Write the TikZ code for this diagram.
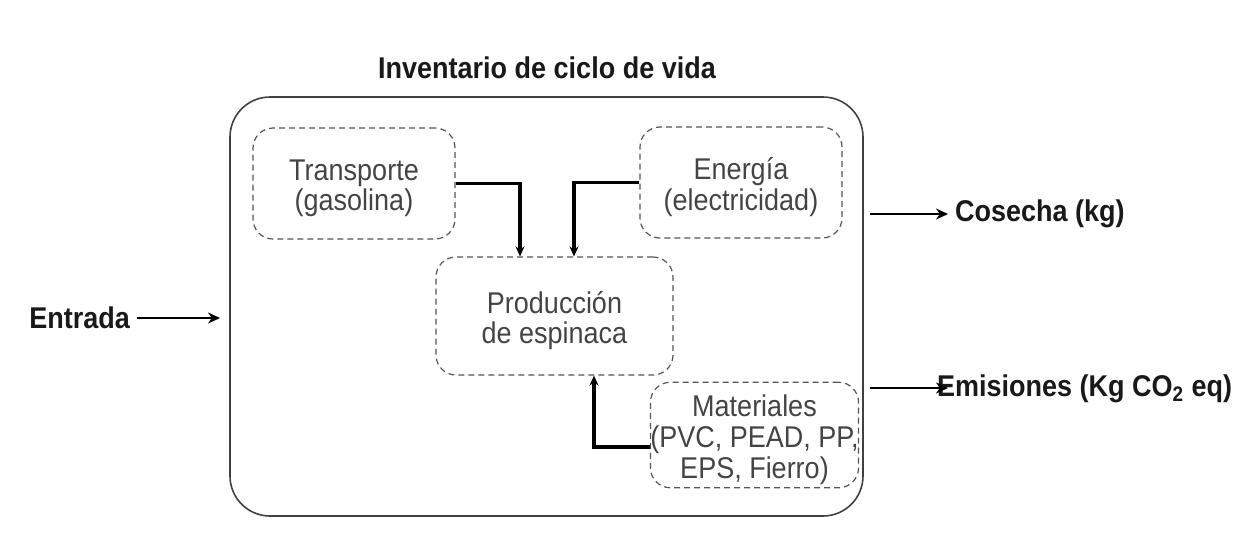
\documentclass[tikz,border=0pt]{standalone}
\usepackage{fontspec}
\setmainfont[FakeStretch=0.9]{Liberation Sans}
\usepackage{xcolor}
\usepackage{tikz}
\usetikzlibrary{arrows.meta,calc,positioning}
\definecolor{boxgray}{HTML}{555555}
\definecolor{txtgray}{HTML}{444444}
\newcommand{\stagetxt}[1]{\raisebox{-3pt}[\height][\depth]{\begin{tabular}{@{}c@{}}#1\end{tabular}}}
\begin{document}
\begin{tikzpicture}[x=0.5pt,y=-0.5pt,
  flow/.style={-{Stealth[length=5pt,width=4.5pt]},line width=1.6pt},
  io/.style={-{Stealth[length=6pt,width=5.5pt]},line width=1.4pt},
  stage/.style={draw=boxgray,dashed,dash pattern=on 3pt off 2pt,line width=0.6pt,rounded corners=10pt,
    inner xsep=0pt,text=txtgray,font=\fontsize{15}{15}\selectfont},
  outer/.style={font=\bfseries\fontsize{15}{18}\selectfont,text=black!90}]
\useasboundingbox (0,0) rectangle (1243,537);
\node[outer] (title) at (547,68) {Inventario de ciclo de vida};
\node[draw=black!75,line width=0.8pt,rounded corners=20pt,minimum width=316.5pt,minimum height=209.5pt] (lci) at (546.5,306.5) {};
\node[stage,minimum width=101pt,minimum height=55.5pt] (trans) at (354,183.5) {\stagetxt{Transporte\\(gasolina)}};
\node[stage,minimum width=101pt,minimum height=55.5pt] (ener) at (741,182.5) {\stagetxt{Energía\\(electricidad)}};
\node[stage,minimum width=118.5pt,minimum height=59pt] (prod) at (554.5,316) {\stagetxt{Producción\\de espinaca}};
\node[stage,minimum width=103.5pt,minimum height=49pt] (mat) at (754.5,435) {\stagetxt{Materiales\\(PVC, PEAD, PP,\\EPS, Fierro)}};
\draw[flow] (trans.east) -| ($(prod.north)+(-34.5,0)$);
\draw[flow] (ener.west) -| ($(prod.north)+(19.5,0)$);
\draw[flow] ($(mat.west)+(0,12)$) -| ($(prod.south)+(39.5,0)$);
\node[outer,anchor=east] (entrada) at (137,318) {Entrada};
\draw[io] (entrada.east) -- (220,318);
\coordinate (cos0) at (870,214);
\node[outer,anchor=west] (cosecha) at (948,214) {Cosecha (kg)};
\draw[io] (cos0) -- (cosecha.west);
\coordinate (emi0) at (870,388);
\node[outer,anchor=west] (emis) at (930,389) {Emisiones (Kg CO\textsubscript{2} eq)};
\draw[io] (emi0) -- ($(emis.west)+(18,-1)$);
\end{tikzpicture}
\end{document}
